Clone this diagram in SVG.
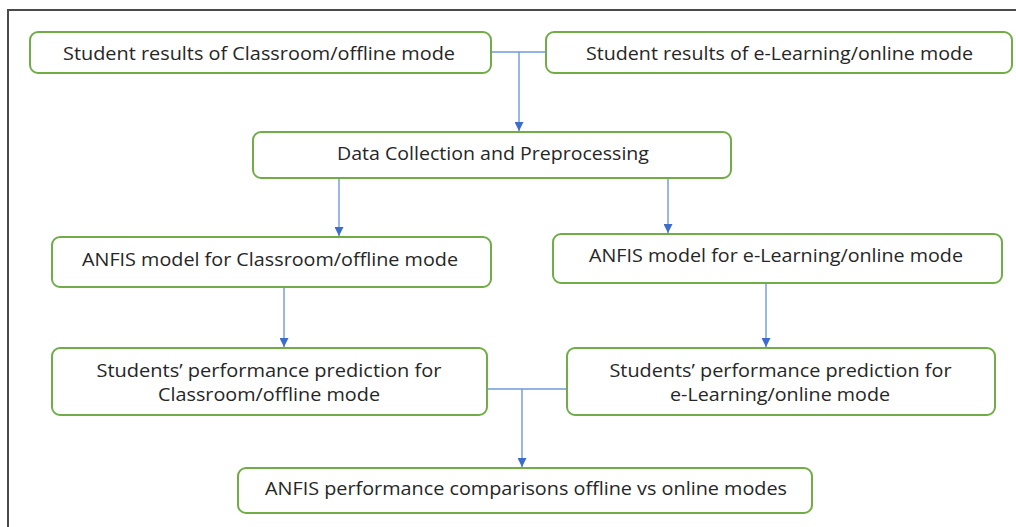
<svg xmlns="http://www.w3.org/2000/svg" width="1016" height="527" viewBox="0 0 1016 527">
  <style>
    .box { fill: #ffffff; stroke: #70ad47; stroke-width: 2; }
    .lbl { font-family: "Open Sans", "Liberation Sans", sans-serif; font-size: 18.8px; fill: #262626; text-anchor: middle; }
    .wire { fill: none; stroke: #6f98dc; stroke-width: 1.4; }
    .frame { fill: none; stroke: #4a4a4a; stroke-width: 2; }
  </style>
  <defs>
    <marker id="arrow" viewBox="0 0 10 10" refX="10" refY="5" markerWidth="9" markerHeight="9" markerUnits="userSpaceOnUse" orient="auto">
      <path d="M0,0 L10,5 L0,10 Z" fill="#3d6dcc"/>
    </marker>
  </defs>

  <rect width="1016" height="527" fill="#ffffff"/>
  <!-- outer frame (left and top edges) -->
  <path class="frame" d="M8,540 V10 H1016"/>

  <g id="connectors">
    <path class="wire" d="M491,52 H546"/>
    <path class="wire" d="M519,52 V131" marker-end="url(#arrow)"/>
    <path class="wire" d="M339,178 V236" marker-end="url(#arrow)"/>
    <path class="wire" d="M668,178 V233" marker-end="url(#arrow)"/>
    <path class="wire" d="M284,287 V347" marker-end="url(#arrow)"/>
    <path class="wire" d="M766,283 V347" marker-end="url(#arrow)"/>
    <path class="wire" d="M487,389 H567"/>
    <path class="wire" d="M522,389 V467" marker-end="url(#arrow)"/>
  </g>

  <g id="offline-results">
    <rect class="box" x="30" y="32" width="461" height="41" rx="8"/>
    <text class="lbl" x="259" y="60" textLength="392" lengthAdjust="spacingAndGlyphs">Student results of Classroom/offline mode</text>
  </g>
  <g id="online-results">
    <rect class="box" x="546" y="32" width="466" height="41" rx="8"/>
    <text class="lbl" x="779.5" y="60" textLength="387" lengthAdjust="spacingAndGlyphs">Student results of e-Learning/online mode</text>
  </g>
  <g id="data-collection">
    <rect class="box" x="253" y="132" width="478" height="46" rx="8"/>
    <text class="lbl" x="493" y="160" textLength="312" lengthAdjust="spacingAndGlyphs">Data Collection and Preprocessing</text>
  </g>
  <g id="anfis-offline">
    <rect class="box" x="52" y="237" width="439" height="50" rx="8"/>
    <text class="lbl" x="270" y="266" textLength="376" lengthAdjust="spacingAndGlyphs">ANFIS model for Classroom/offline mode</text>
  </g>
  <g id="anfis-online">
    <rect class="box" x="553" y="234" width="449" height="49" rx="8"/>
    <text class="lbl" x="776" y="262" textLength="374" lengthAdjust="spacingAndGlyphs">ANFIS model for e-Learning/online mode</text>
  </g>
  <g id="prediction-offline">
    <rect class="box" x="52" y="348" width="435" height="67" rx="8"/>
    <text class="lbl" x="269" y="377" textLength="345" lengthAdjust="spacingAndGlyphs">Students’ performance prediction for</text>
    <text class="lbl" x="269" y="401" textLength="222" lengthAdjust="spacingAndGlyphs">Classroom/offline mode</text>
  </g>
  <g id="prediction-online">
    <rect class="box" x="567" y="348" width="428" height="67" rx="8"/>
    <text class="lbl" x="780.5" y="377" textLength="342" lengthAdjust="spacingAndGlyphs">Students’ performance prediction for</text>
    <text class="lbl" x="780" y="401" textLength="220" lengthAdjust="spacingAndGlyphs">e-Learning/online mode</text>
  </g>
  <g id="comparison">
    <rect class="box" x="238" y="468" width="574" height="45" rx="8"/>
    <text class="lbl" x="526" y="495" textLength="522" lengthAdjust="spacingAndGlyphs">ANFIS performance comparisons offline vs online modes</text>
  </g>
</svg>
